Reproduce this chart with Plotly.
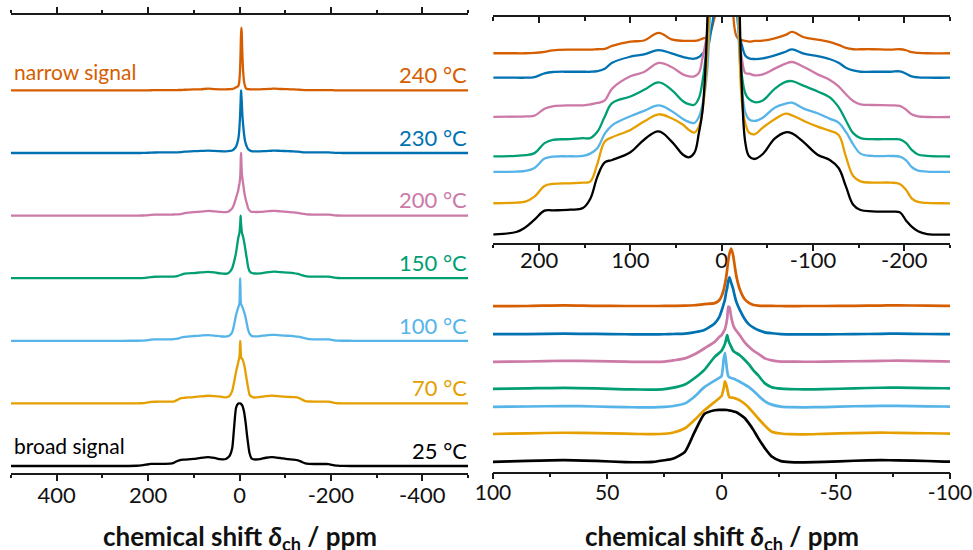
import plotly.graph_objects as go

# ---------------- data ----------------
temps = ["25 °C", "70 °C", "100 °C", "150 °C", "200 °C", "230 °C", "240 °C"]
colors = ["#000000", "#E69F00", "#56B4E9", "#009E73", "#CC79A7", "#0072B2", "#D55E00"]

# chemical shift grid (ppm)
ppm = [500, 300, 254, 225, 215, 205, 194, 185, 166, 152, 144, 136, 128, 120, 100, 85, 69, 55, 42, 36, 30, 25,
       21, 16, 12, 7.5, 3, 1, 0, -1, -1.5, -2, -2.5, -3, -3.5, -4.2, -5, -5.7, -6.5, -8, -10, -12, -14, -16, -19, -22, -26,
       -30, -36, -45, -58, -70, -77, -90, -105, -118, -128, -136, -144, -152, -165, -185, -195, -202, -208, -215, -225,
       -250, -300, -500]

# normalized intensity (per mille of maximum)
I_25 = [0, 0, 0, 3.7, 10, 20.5, 32.9, 33.3, 34.2, 36.5, 48.9, 79.9, 99.1, 102.3, 112.8, 130.1, 141.6, 127.9, 109.1, 105.9, 111.9, 139.3,
        170, 283, 602, 930, 995, 1000, 1000, 1000, 1000, 999, 998, 994, 990, 985, 978, 970, 960, 925, 867, 770, 655, 522, 345, 204, 125,
        107.3, 103.7, 110.5, 131.5, 140.2, 138.8, 126.5, 109.6, 102.7, 91.3, 66.2, 41.1, 33.8, 32, 31.5, 30.6, 19.2, 11, 4.6, 0.9, 0, 0, 0]
I_70 = [0, 0, 0, 0.9, 2.3, 9.1, 23.7, 26.5, 27.4, 28.3, 29.7, 54.8, 84.5, 90.4, 100.5, 111.9, 121.9, 116.4, 107.3, 100.5, 96.8, 105,
        127, 199, 334, 505, 649, 712, 748, 892, 1000, 950, 874, 775, 730, 721, 721, 712, 703, 676, 622, 550, 460, 370, 244, 140, 109,
        96.8, 94.5, 103.7, 115.1, 122.8, 120.5, 112.8, 105, 99.5, 93.6, 63.9, 37.4, 30.1, 28.3, 28.3, 26.5, 18.3, 6.8, 1.8, 0.5, 0, 0, 0]
I_100 = [0, 0, 0, 0.5, 1.4, 5.5, 18.3, 21, 21.5, 21.9, 25.1, 32.9, 52.5, 63.9, 76.3, 83.6, 91.3, 83.6, 72.1, 68.5, 67.1, 75.3,
         92, 137, 247, 414, 526, 572, 600, 907, 1000, 851, 684, 600, 582, 572, 563, 554, 535, 507, 461, 414, 349, 275, 172, 115, 81,
         72.1, 69.9, 74.4, 88.1, 93.6, 95, 86.8, 80.4, 73.1, 67.6, 54.8, 37.9, 25.1, 21.9, 21.9, 21, 16, 6.8, 1.8, 0.5, 0, 0, 0]
I_150 = [0, 0, 0, 0.9, 1.8, 4.6, 18.3, 22.8, 23.7, 25.1, 25.1, 34.2, 54.8, 73, 82.2, 91.3, 101.4, 91.3, 75.3, 71.7, 70.8, 79.9,
         103, 158, 260, 408, 630, 695, 732, 806, 852, 926, 1000, 917, 861, 806, 741, 713, 695, 658, 584, 500, 399, 316, 177, 112, 86,
         78.5, 74.4, 76.7, 92.7, 102.3, 103.2, 96.8, 89, 81.3, 67.6, 49.3, 32, 25.1, 23.7, 23.7, 23.3, 18.3, 9.1, 2.7, 0.9, 0, 0, 0]
I_200 = [0, 0, 0, 0.5, 0.9, 1.8, 11.4, 14.6, 16, 16, 17.4, 19.2, 22.8, 38.8, 55.7, 61.6, 74, 68.5, 58, 55.7, 55.7, 60.3,
         81, 115, 180, 284, 397, 482, 510, 576, 614, 689, 802, 1000, 985, 830, 699, 633, 586, 510, 397, 312, 246, 195, 115, 81, 60,
         59.4, 57.1, 58.4, 66.2, 73.1, 75.3, 68.5, 58.4, 51.1, 42, 31.1, 21.9, 17.4, 16.4, 16, 15.1, 10, 3.7, 0.9, 0, 0, 0, 0]
I_230 = [0, 0, 0, 0, 0, 0.9, 5.9, 7.8, 8.2, 8.2, 8.2, 9.1, 12.3, 20.5, 28.8, 32, 37.9, 33.3, 28.3, 26.5, 26, 28.3,
         33, 39, 61, 101, 212, 319, 426, 552, 621, 737, 825, 942, 1000, 912, 815, 698, 582, 445, 299, 197, 141, 101, 61, 45, 30,
         26.5, 25.6, 26.5, 30.6, 35.6, 38.8, 32.9, 29.7, 25.6, 20.5, 13.7, 10, 8.2, 8.2, 8.2, 8.7, 5.5, 1.8, 0.5, 0, 0, 0, 0]
I_240 = [0, 0, 0, 0, 0, 0.5, 2, 4, 5, 5, 5, 5.5, 6, 10, 16, 17.5, 28, 19, 17, 17, 17, 18,
         20, 22, 30, 50, 66, 115, 184, 302, 391, 499, 646, 813, 912, 1000, 902, 725, 528, 302, 140, 70, 35, 24, 19, 18, 17,
         16, 16.9, 17.4, 20.5, 25.1, 29.2, 21.9, 18.7, 15.5, 11.4, 7.3, 5.5, 5.5, 5.5, 5, 5.5, 4.1, 1.4, 0.5, 0, 0, 0, 0]
spectra = [I_25, I_70, I_100, I_150, I_200, I_230, I_240]

# vertical stacking offsets (per mille) in each panel
offsets_full = [112, 1112, 2112, 3112, 4112, 5112, 6112]
offsets_wide = [11.4, 54.4, 97.3, 118.5, 172.6, 226.4, 259.9]
offsets_center = [56, 544, 1031, 1333, 1822, 2321, 2815]

# tick labels
full_ticks = [400, 200, 0, -200, -400]
full_ticktext = ["400", "200", "0", "-200", "-400"]
full_minor = [500, 300, 100, -100, -300, -500]
wide_ticks = [200, 100, 0, -100, -200]
wide_ticktext = ["200", "100", "0", "-100", "-200"]
wide_minor = [250, 150, 50, -50, -150, -250]
center_ticks = [100, 50, 0, -50, -100]
center_ticktext = ["100", "50", "0", "-50", "-100"]
center_minor = [75, 25, -25, -75]

# ---------------- figure ----------------
W, H = 973, 550
FONT = "Lato"
fig = go.Figure()

panels = [("x", "y", offsets_full, 2.3, 0.6), ("x2", "y2", offsets_wide, 2.3, 1.1), ("x3", "y3", offsets_center, 2.7, 0.6)]
for xa, ya, offs, lw, sm in panels:
    for k in range(len(temps) - 1, -1, -1):
        fig.add_trace(go.Scatter(
            x=ppm, y=[v + offs[k] for v in spectra[k]], xaxis=xa, yaxis=ya,
            mode="lines", line=dict(color=colors[k], width=lw, shape="spline", smoothing=sm),
            hoverinfo="skip", showlegend=False))

# helper trace (one point outside the visible y range) for the thin frame-top subplot of the upper right panel
fig.add_trace(go.Scatter(x=[0], y=[-10], xaxis="x5", yaxis="y5", mode="lines", showlegend=False, hoverinfo="skip"))

def px_x(p):
    return p / W

def px_y(p):
    return 1 - p / H

line_col = "#1a1a1a"

def bottom_axis(dom, rng, anchor, tv, tt, mv, fs, standoff, mirror=False):
    return dict(domain=dom, range=rng, anchor=anchor, automargin=False, showline=True, linecolor=line_col, linewidth=1.5,
                mirror=mirror, showgrid=False, zeroline=False, tickmode="array", tickvals=tv, ticktext=tt,
                ticks="outside", ticklen=6, tickwidth=1.5, tickcolor=line_col,
                tickfont=dict(family=FONT, size=fs, color="#111111"),
                ticklabelstandoff=standoff, ticklabeloverflow="allow",
                minor=dict(tickmode="array", tickvals=mv, ticks="outside", ticklen=3.5, tickwidth=1.5,
                           tickcolor=line_col, showgrid=False))

def top_frame_axis(dom, rng, anchor, tv, mv):
    # line at the top of the panel with ticks pointing down into the panel
    return dict(domain=dom, range=rng, anchor=anchor, side="bottom", automargin=False, showline=True,
                linecolor=line_col, linewidth=1.5, showgrid=False, zeroline=False, tickmode="array", tickvals=tv,
                ticks="outside", ticklen=6, tickwidth=1.5, tickcolor=line_col, showticklabels=False,
                minor=dict(tickmode="array", tickvals=mv, ticks="outside", ticklen=4, tickwidth=1.5,
                           tickcolor=line_col, showgrid=False))

hidden_y = dict(visible=False, showgrid=False, zeroline=False, automargin=False)

fig.update_layout(
    width=W, height=H, margin=dict(l=0, r=0, t=0, b=0, autoexpand=False),
    paper_bgcolor="white", plot_bgcolor="rgba(0,0,0,0)",
    font=dict(family=FONT, color="#111111"),
    xaxis=bottom_axis([px_x(11), px_x(468)], [500, -500], "y", full_ticks, full_ticktext, full_minor, 22, -4, "ticks"),
    yaxis=dict(hidden_y, domain=[px_y(473), px_y(15)], range=[0, 7316]),
    xaxis2=bottom_axis([px_x(493.4), px_x(950)], [250, -250], "y2", wide_ticks, wide_ticktext, wide_minor, 22, -9),
    yaxis2=dict(hidden_y, domain=[px_y(243), px_y(15)], range=[0, 312.3]),
    xaxis3=bottom_axis([px_x(493), px_x(950)], [100, -100], "y3", center_ticks, center_ticktext, center_minor, 21, -5),
    yaxis3=dict(hidden_y, domain=[px_y(471.7), px_y(243)], range=[0, 3909]),
    xaxis5=top_frame_axis([px_x(493.4), px_x(950)], [250, -250], "y5", wide_ticks, wide_minor),
    yaxis5=dict(hidden_y, domain=[px_y(15), px_y(11)], range=[0, 1]),
)

# temperature labels
for k in range(len(temps)):
    fig.add_annotation(x=-500, y=offsets_full[k] + 250, xref="x", yref="y", text=temps[k],
                       xanchor="right", yanchor="middle", align="right", showarrow=False, borderpad=0,
                       font=dict(family=FONT, size=22, color=colors[k]))

fig.add_annotation(x=500, y=6420, xref="x", yref="y", text="narrow signal", xanchor="left", yanchor="middle",
                   align="left", xshift=2, showarrow=False, borderpad=0,
                   font=dict(family=FONT, size=21, color=colors[6]))
fig.add_annotation(x=500, y=447, xref="x", yref="y", text="broad signal", xanchor="left", yanchor="middle",
                   align="left", xshift=2, showarrow=False, borderpad=0,
                   font=dict(family=FONT, size=21, color=colors[0]))

title = "<b>chemical shift <i>δ</i><sub>ch</sub> / ppm</b>"
for cx in (239.5, 721.5):
    fig.add_annotation(x=px_x(cx), y=px_y(537), xref="paper", yref="paper", text=title,
                       xanchor="center", yanchor="middle", showarrow=False, borderpad=0,
                       font=dict(family=FONT, size=26, color="#111111"))

fig.write_html("out.html")
